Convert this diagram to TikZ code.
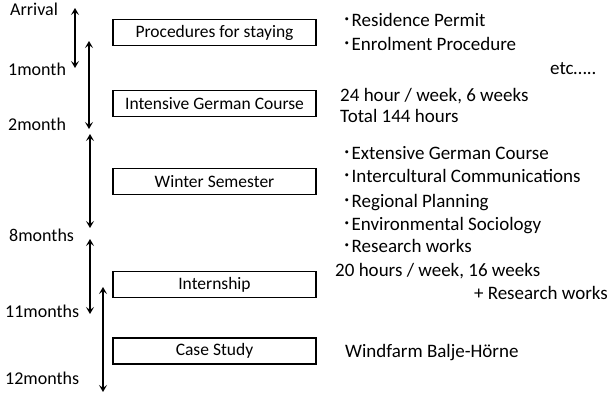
\documentclass[tikz,border=0pt]{standalone}
\usepackage{fontspec}
\setmainfont{Carlito}
\newfontfamily\cjk{Noto Sans CJK JP}
\usetikzlibrary{positioning}
\usetikzlibrary{arrows.meta}

\newcommand{\bul}{{\cjk ･}}

\begin{document}
\begin{tikzpicture}[x=1pt, y=-1pt,
    stage/.style={draw, line width=1.3pt, minimum width=203pt, minimum height=26pt, inner sep=0pt, font=\fontsize{17.5}{20}\selectfont},
    period/.style={anchor=west, inner sep=0pt, text height=12pt, text depth=4pt, font=\fontsize{18}{20}\selectfont},
    note/.style={anchor=west, inner sep=0pt, text height=13pt, text depth=4pt, font=\fontsize{19}{22}\selectfont},
    span/.style={{Stealth[length=7pt,width=8pt,inset=3pt]}-{Stealth[length=7pt,width=8pt,inset=3pt]}, line width=1.8pt}]

    \useasboundingbox (0,0) rectangle (613,393);

    % time labels
    \node(arrival)[period] at (10,12) {Arrival};
    \node(m1)[period] at (8,72) {1month};
    \node(m2)[period] at (8,127) {2month};
    \node(m8)[period] at (9,237) {8months};
    \node(m11)[period] at (5,313) {11months};
    \node(m12)[period] at (5,380) {12months};

    % stages
    \node(proc)[stage] at (214.5,32.5) {Procedures for staying};
    \node(igc)[stage] at (214.5,103.5) {Intensive German Course};
    \node(winter)[stage] at (214.5,181.5) {Winter Semester};
    \node(intern)[stage] at (214.5,284.5) {Internship};
    \node(case)[stage] at (214.5,351) {Case Study};

    % spans
    \coordinate(a1) at (75,8);    \coordinate(b1) at (75,68);
    \coordinate(a2) at (89,41);   \coordinate(b2) at (89,129);
    \coordinate(a3) at (90,134);  \coordinate(b3) at (90,228);
    \coordinate(a4) at (90,239);  \coordinate(b4) at (90,314);
    \coordinate(a5) at (103,287); \coordinate(b5) at (103,392);

    \draw[span] (a1) -- (b1);
    \draw[span] (a2) -- (b2);
    \draw[span] (a3) -- (b3);
    \draw[span] (a4) -- (b4);
    \draw[span] (a5) -- (b5);

    % notes
    \node(perm)[note] at (342,22) {\bul Residence Permit};
    \node(enrol)[note, below=7pt of perm.south west, anchor=north west] {\bul Enrolment Procedure};
    \node(etc)[note] at (550,70) {etc…..};

    \node(hours)[note] at (340,97) {24 hour / week, 6 weeks};
    \node(total)[note] at (340,118) {Total 144 hours};

    \node(ext)[note] at (342,155) {\bul Extensive German Course};
    \node(inter)[note] at (342,178) {\bul Intercultural Communications};
    \node(reg)[note] at (342,203) {\bul Regional Planning};
    \node(env)[note] at (342,226) {\bul Environmental Sociology};
    \node(res)[note] at (342,248) {\bul Research works};

    \node(weeks)[note] at (335,272) {20 hours / week, 16 weeks};
    \node(plus)[note, anchor=east] at (608,295) {+ Research works};

    \node(wind)[note] at (345,353) {Windfarm Balje-Hörne};

\end{tikzpicture}
\end{document}
